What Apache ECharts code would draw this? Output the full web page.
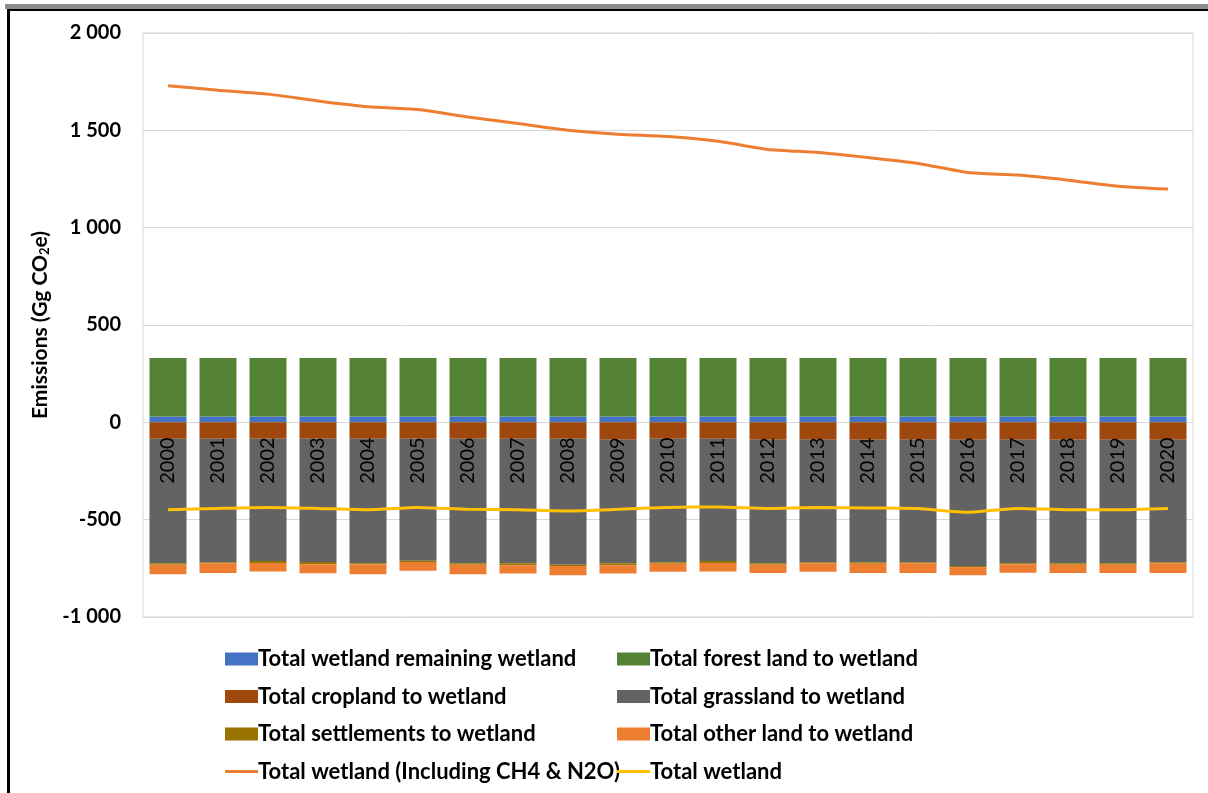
<!DOCTYPE html>
<html>
<head>
<meta charset="utf-8">
<script src="https://cdn.jsdelivr.net/npm/echarts@6/dist/echarts.min.js"></script>
<style>
  html, body { margin: 0; padding: 0; background: #fff; }
  #strip { position: absolute; left: 5px; top: 4px; right: 0; height: 5px; background: #8c8c8c; }
  #frame { position: absolute; left: 7px; top: 9px; right: -4px; bottom: -4px; border-top: 2px solid #000; border-left: 3px solid #000; }
  #chart { position: absolute; left: 0; top: 0; width: 1208px; height: 793px; }
</style>
</head>
<body>
<div id="strip"></div>
<div id="frame"></div>
<div id="chart"></div>
<script>
// years on the category axis
var years = ['2000', '2001', '2002', '2003', '2004', '2005', '2006', '2007', '2008', '2009', '2010',
  '2011', '2012', '2013', '2014', '2015', '2016', '2017', '2018', '2019', '2020'];

// Gg CO2e
var wetlandRemaining = [30, 30, 30, 30, 30, 30, 30, 30, 30, 30, 30, 30, 30, 30, 30, 30, 30, 30, 30, 30, 30];
var forestLand = [300, 300, 300, 300, 300, 300, 300, 300, 300, 300, 300, 300, 300, 300, 300, 300, 300, 300, 300, 300, 300];
var cropland = [-84, -84, -84, -84, -84, -84, -84, -84, -84, -89, -84, -84, -89, -89, -89, -89, -89, -89, -89, -89, -89];
var grassland = [-640, -635, -628, -633, -640, -627, -640, -640, -647, -635, -635, -628, -635, -630, -630, -630, -649, -635, -635, -635, -630];
var settlements = [-7, -5, -10, -12, -5, -7, -7, -10, -7, -10, -7, -10, -7, -5, -7, -5, -7, -5, -7, -7, -5];
var otherLand = [-50, -50, -44, -46, -51, -44, -50, -43, -48, -43, -41, -44, -43, -43, -48, -50, -41, -44, -43, -43, -50];
var totalInclGases = [1729, 1706, 1686, 1651, 1621, 1607, 1569, 1535, 1501, 1480, 1468, 1444, 1402, 1386, 1360, 1330, 1283, 1270, 1244, 1213, 1198];
var totalWetland = [-449, -442, -437, -442, -449, -437, -447, -449, -455, -447, -437, -435, -442, -437, -440, -443, -462, -442, -449, -449, -442];

var Y_MIN = -1000, Y_MAX = 2000;
var GRID_TOP = 33, GRID_BOTTOM = 176, CHART_H = 793;

var FONT = 'Lato';
// short thick line for the line-series legend keys (outer M points fix the box)
var LINE_ICON = 'path://M0,0 M33,13 M0,5 L33,5 L33,8 L0,8 Z';

function barSeries(name, data, color) {
  return {
    name: name,
    type: 'bar',
    stack: 'total',
    barWidth: 37,
    data: data,
    itemStyle: { color: color },
    emphasis: { disabled: true }
  };
}

function lineSeries(name, data, color) {
  return {
    name: name,
    type: 'line',
    data: data,
    symbol: 'none',
    smooth: 0.2,
    lineStyle: { color: color, width: 3 },
    itemStyle: { color: color },
    z: 5
  };
}

var legendBase = {
  orient: 'vertical',
  padding: 0,
  itemWidth: 33,
  itemHeight: 13,
  itemGap: 15.5,
  selectedMode: false,
  textStyle: { fontFamily: FONT, fontWeight: 'bold', fontSize: 22, color: '#000', lineHeight: 20, padding: [0, 0, 0, -5] }
};

// category axis sits on the zero line, like the original
var plotH = CHART_H - GRID_TOP - GRID_BOTTOM;
var zeroOffset = -plotH * (0 - Y_MIN) / (Y_MAX - Y_MIN);

var chart = echarts.init(document.getElementById('chart'));
chart.setOption({
  animation: false,
  grid: {
    left: 143, right: 15, top: GRID_TOP, bottom: GRID_BOTTOM,
    show: true, borderColor: '#d9d9d9', borderWidth: 1
  },
  legend: [
    Object.assign({}, legendBase, {
      left: 225, top: 648,
      data: [
        { name: 'Total wetland remaining wetland', icon: 'rect' },
        { name: 'Total cropland to wetland', icon: 'rect' },
        { name: 'Total settlements to wetland', icon: 'rect' },
        { name: 'Total wetland (Including CH4 & N2O)', icon: LINE_ICON }
      ]
    }),
    Object.assign({}, legendBase, {
      left: 617, top: 648,
      data: [
        { name: 'Total forest land to wetland', icon: 'rect' },
        { name: 'Total grassland to wetland', icon: 'rect' },
        { name: 'Total other land to wetland', icon: 'rect' },
        { name: 'Total wetland', icon: LINE_ICON }
      ]
    })
  ],
  xAxis: {
    type: 'category',
    data: years,
    z: 10,
    offset: zeroOffset,
    axisLine: { show: false, onZero: false },
    axisTick: { show: false },
    axisLabel: { rotate: 90, margin: 15, fontFamily: FONT, fontSize: 20, color: '#000' }
  },
  yAxis: {
    type: 'value',
    min: Y_MIN,
    max: Y_MAX,
    interval: 500,
    name: 'Emissions (Gg CO{sub|2}e)',
    nameLocation: 'middle',
    nameGap: 74,
    nameTextStyle: {
      fontFamily: FONT, fontWeight: 'bold', fontSize: 21, color: '#000',
      rich: { sub: { fontFamily: FONT, fontWeight: 'bold', fontSize: 13, color: '#000', verticalAlign: 'bottom', padding: [9, 0, 0, 0] } }
    },
    axisLine: { show: false },
    axisTick: { show: false },
    splitLine: { lineStyle: { color: '#d9d9d9', width: 1 } },
    axisLabel: {
      margin: 22,
      fontFamily: FONT, fontWeight: 'bold', fontSize: 20, color: '#000',
      formatter: function (v) {
        var s = String(Math.abs(v)).replace(/\B(?=(\d{3})+(?!\d))/g, ' ');
        return (v < 0 ? '-' : '') + s;
      }
    }
  },
  series: [
    barSeries('Total wetland remaining wetland', wetlandRemaining, '#4472C4'),
    barSeries('Total forest land to wetland', forestLand, '#548235'),
    barSeries('Total cropland to wetland', cropland, '#9E480E'),
    barSeries('Total grassland to wetland', grassland, '#636363'),
    barSeries('Total settlements to wetland', settlements, '#997300'),
    barSeries('Total other land to wetland', otherLand, '#ED7D31'),
    lineSeries('Total wetland (Including CH4 & N2O)', totalInclGases, '#ED7D31'),
    lineSeries('Total wetland', totalWetland, '#FFC000')
  ]
});
</script>
</body>
</html>
